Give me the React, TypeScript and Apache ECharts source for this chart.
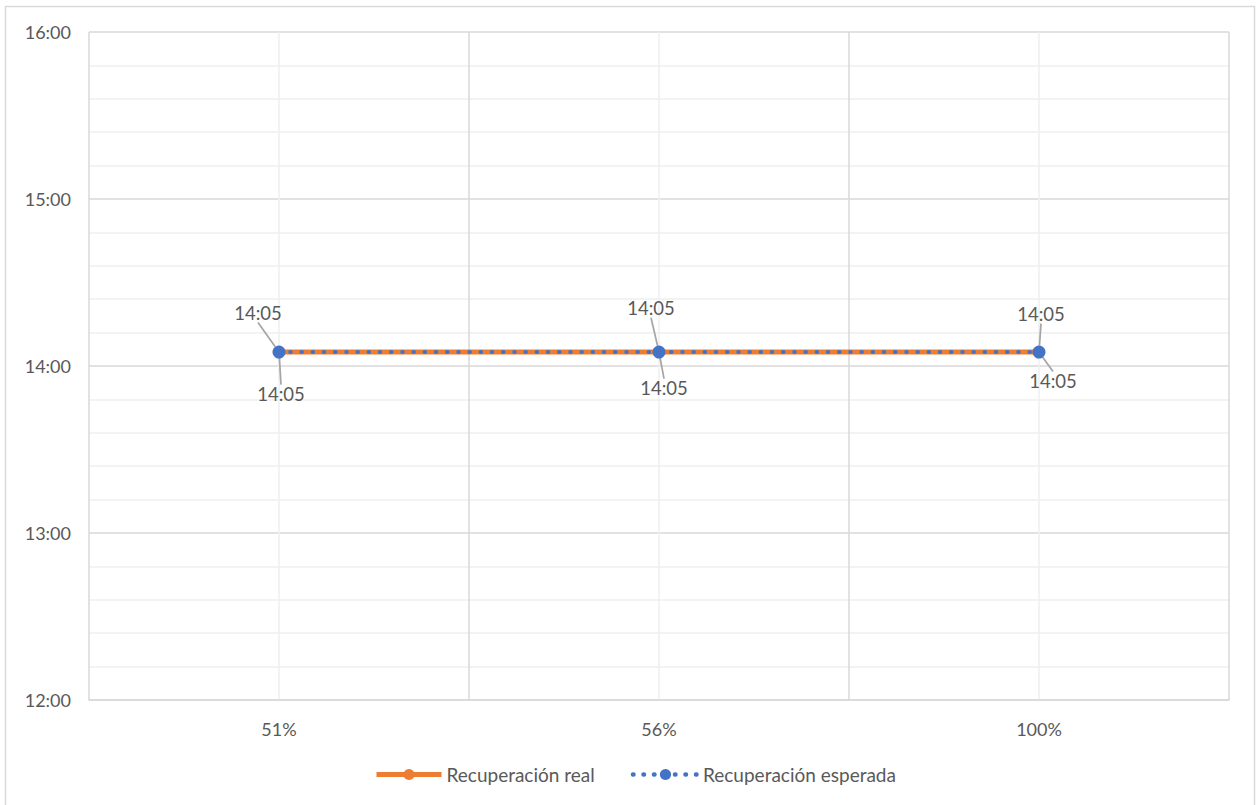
import React, { useEffect, useRef } from "react";
import * as echarts from "echarts";

const categories = ["51%", "56%", "100%"];
const realValues = ["14:05", "14:05", "14:05"];
const expectedValues = ["14:05", "14:05", "14:05"];
const yTicks = ["12:00", "13:00", "14:00", "15:00", "16:00"];
const seriesNames = ["Recuperación real", "Recuperación esperada"];

const toMin = (s: string) => {
  const [h, m] = s.split(":").map(Number);
  return h * 60 + m;
};
const fmt = (v: number) => `${Math.floor(v / 60)}:${String(Math.round(v % 60)).padStart(2, "0")}`;

const FONT = "Lato, 'Open Sans', sans-serif";
const TXT = "#595959";

// label offsets (styling only)
const realLabelOffsets = [[2, 42], [5, 36], [14, 29]];
const expLabelOffsets = [[-21, -39], [-8, -44], [2, -38]];

export default function App() {
  const ref = useRef<HTMLDivElement>(null);
  useEffect(() => {
    if (!ref.current) return;
    const chart = echarts.init(ref.current, undefined, { renderer: "svg" });
    const yMin = toMin(yTicks[0]);
    const yMax = toMin(yTicks[yTicks.length - 1]);
    const labelCommon = {
      show: true,
      position: "inside" as const,
      formatter: (p: any) => fmt(p.value),
      color: TXT,
      fontFamily: FONT,
      fontSize: 18.5,
    };
    const labelLine = {
      show: true,
      lineStyle: { color: "#a6a6a6", width: 1.75 },
    };
    chart.setOption({
      animation: false,
      textStyle: { fontFamily: FONT },
      graphic: [
        {
          type: "rect",
          shape: { x: 5.5, y: 6.5, width: 1249, height: 820 },
          style: { fill: "none", stroke: "#d9d9d9", lineWidth: 1.5 },
          silent: true,
        },
      ],
      grid: { left: 89, right: 27, top: 32, bottom: 105, containLabel: false },
      legend: {
        left: 369,
        top: 760,
        itemGap: 36,
        itemWidth: 65,
        itemHeight: 14,
        textStyle: { color: TXT, fontFamily: FONT, fontSize: 19 },
        data: [
          {
            name: seriesNames[0],
            lineStyle: { width: 5 },
          },
          {
            name: seriesNames[1],
            lineStyle: { width: 4.5, type: [0.5, 10], cap: "round" },
          },
        ],
      },
      xAxis: [
        {
          type: "category",
          data: categories,
          boundaryGap: true,
          axisLine: { show: true, lineStyle: { color: "#d9d9d9", width: 1.5 } },
          axisTick: { show: false },
          axisLabel: { color: TXT, fontFamily: FONT, fontSize: 18, margin: 20 },
          splitLine: { show: true, interval: 0, lineStyle: { color: "#d9d9d9", width: 1.5 } },
        },
        {
          type: "value",
          position: "top",
          min: 0,
          max: categories.length * 2,
          interval: 2,
          axisLine: { show: false },
          axisTick: { show: false },
          axisLabel: { show: false },
          splitLine: { show: false },
          minorTick: { show: false, splitNumber: 2 },
          minorSplitLine: { show: true, lineStyle: { color: "#efefef", width: 1.5 } },
        },
      ],
      yAxis: {
        type: "value",
        min: yMin,
        max: yMax,
        interval: 60,
        axisLine: { show: false },
        axisTick: { show: false },
        axisLabel: {
          color: TXT,
          fontFamily: FONT,
          fontSize: 18,
          margin: 18,
          formatter: (v: number) => fmt(v),
        },
        splitLine: { show: true, lineStyle: { color: "#d9d9d9", width: 1.5 } },
        minorTick: { show: false, splitNumber: 5 },
        minorSplitLine: { show: true, lineStyle: { color: "#efefef", width: 1.5 } },
      },
      series: [
        {
          name: seriesNames[0],
          type: "line",
          xAxisIndex: 0,
          data: realValues.map(toMin),
          symbol: "circle",
          symbolSize: 9,
          itemStyle: { color: "#ED7D31" },
          lineStyle: { color: "#ED7D31", width: 5 },
          label: labelCommon,
          labelLine,
          labelLayout: (p: any) => ({
            dx: realLabelOffsets[p.dataIndex][0],
            dy: realLabelOffsets[p.dataIndex][1],
          }),
          z: 2,
        },
        {
          name: seriesNames[1],
          type: "line",
          xAxisIndex: 0,
          data: expectedValues.map(toMin),
          symbol: "circle",
          symbolSize: 13,
          itemStyle: { color: "#4472C4" },
          lineStyle: { color: "#4472C4", width: 4, type: [0.5, 10.7], cap: "round" },
          label: labelCommon,
          labelLine,
          labelLayout: (p: any) => ({
            dx: expLabelOffsets[p.dataIndex][0],
            dy: expLabelOffsets[p.dataIndex][1],
          }),
          z: 3,
        },
      ],
    });
    return () => chart.dispose();
  }, []);
  return (
    <div
      ref={ref}
      style={{ position: "fixed", left: 0, top: 0, width: 1256, height: 805, background: "#fff" }}
    />
  );
}
